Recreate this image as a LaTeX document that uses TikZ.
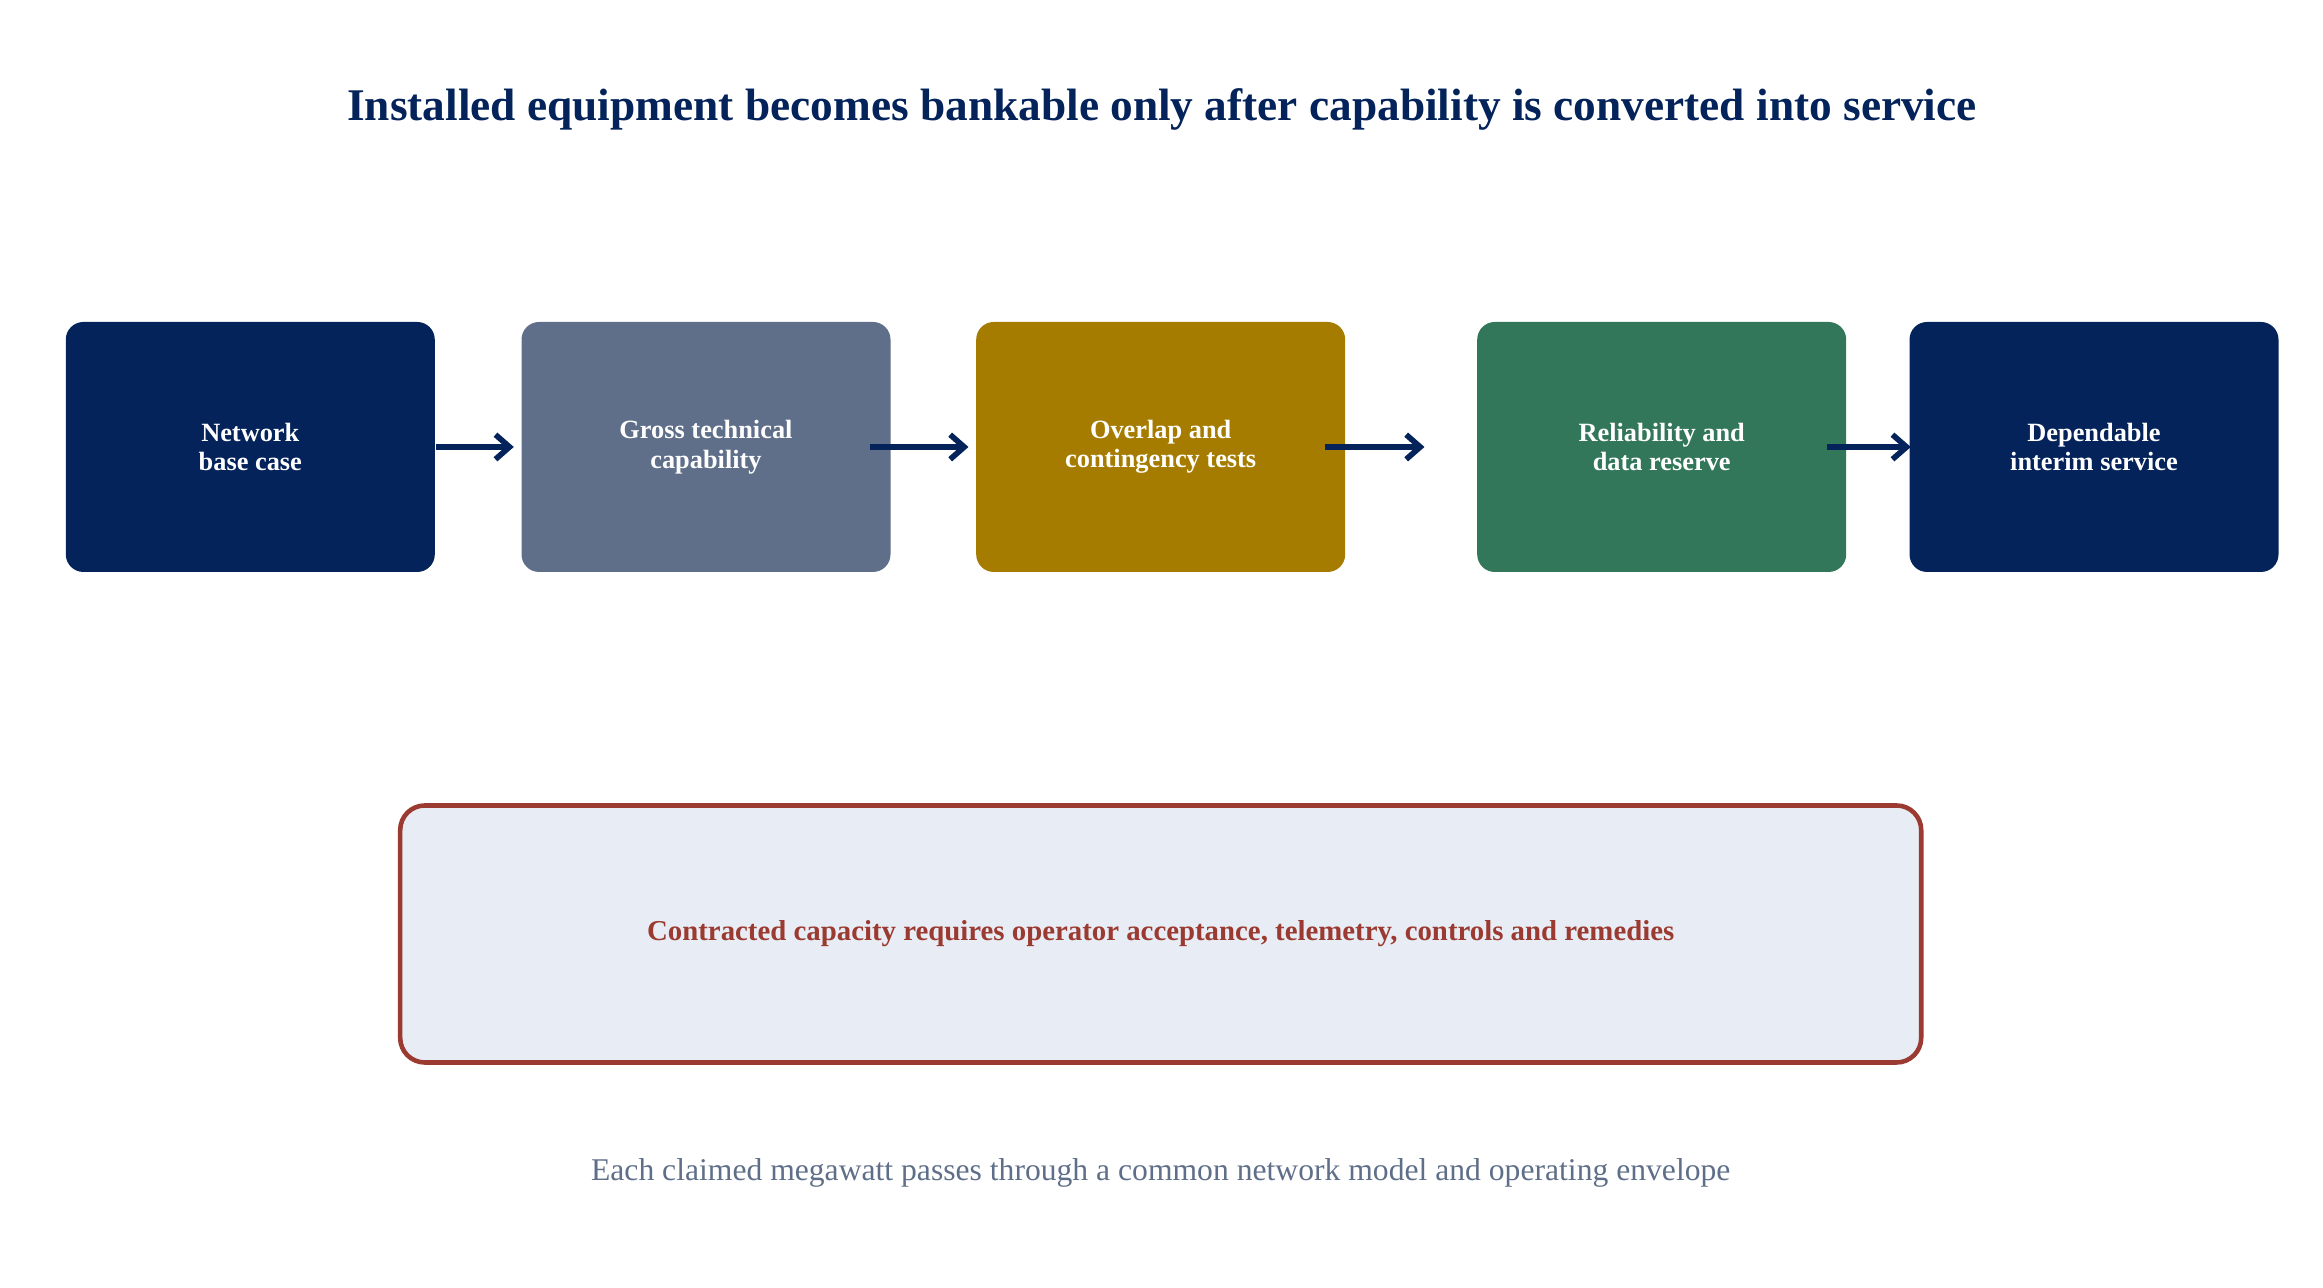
\documentclass[tikz,border=0pt]{standalone}
\usepackage{fontspec}
\setmainfont{Liberation Serif}
\usetikzlibrary{positioning,arrows.meta}
\definecolor{navy}{HTML}{03235A}
\definecolor{slate}{HTML}{5F6F89}
\definecolor{ochre}{HTML}{A67C00}
\definecolor{pine}{HTML}{33775A}
\definecolor{brick}{HTML}{9B3A30}
\definecolor{mist}{HTML}{E8EDF5}
\tikzset{
  stage/.style={rectangle, rounded corners=5pt, minimum width=3.69cm, minimum height=2.5cm,
    text=white, align=center, font=\bfseries\fontsize{7.5}{8.4}\selectfont},
  flow/.style={-{Straight Barb[length=4pt,width=7pt]}, line width=1.6pt, navy}
}
\begin{document}
\begin{tikzpicture}
  \useasboundingbox (0,0) rectangle (23.23,12.88);
  \node[font=\bfseries\fontsize{12.9}{15}\selectfont, text=navy] (title) at (11.62,11.79)
    {Installed equipment becomes bankable only after capability is converted into service};
  % stages
  \node[stage, fill=navy]  (base)   at (2.503,8.41) {Network\\base case};
  \node[stage, fill=slate] (gross)  at (7.06,8.41) {Gross technical\\capability};
  \node[stage, fill=ochre] (tests)  at (11.607,8.41) {Overlap and\\contingency tests};
  \node[stage, fill=pine]  (reserve) at (16.617,8.41) {Reliability and\\data reserve};
  \node[stage, fill=navy]  (interim) at (20.94,8.41) {Dependable\\interim service};
  \draw[flow] (base.east) -- ([xshift=-0.07cm]gross.west);
  \draw[flow] ([xshift=-0.21cm]gross.east) -- ([xshift=-0.07cm]tests.west);
  \draw[flow] ([xshift=-0.21cm]tests.east) -- ([xshift=-0.52cm]reserve.west);
  \draw[flow] ([xshift=-0.2cm]reserve.east) -- ([xshift=0.02cm]interim.west);
  % constraint
  \node[rectangle, rounded corners=7pt, draw=brick, line width=1.3pt, fill=mist,
    minimum width=15.21cm, minimum height=2.57cm, text=brick,
    font=\bfseries\fontsize{8.2}{10}\selectfont] (gate) at (11.607,3.54)
    {Contracted capacity requires operator acceptance, telemetry, controls and remedies};
  \node[text=slate, font=\fontsize{9}{11}\selectfont] (note) at (11.607,1.15)
    {Each claimed megawatt passes through a common network model and operating envelope};
\end{tikzpicture}
\end{document}
